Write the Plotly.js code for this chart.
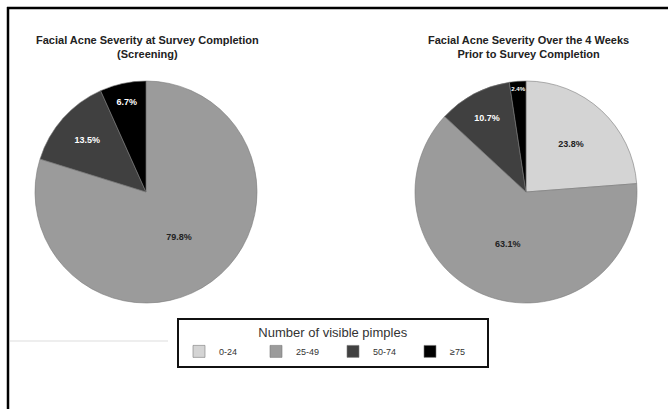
<!DOCTYPE html>
<html>
<head>
<meta charset="utf-8">
<script src="https://cdn.plot.ly/plotly-3.0.1.min.js"></script>
<style>
  html, body { margin: 0; padding: 0; background: #ffffff; }
  #chart { width: 668px; height: 409px; }
</style>
</head>
<body>
<div id="chart"></div>
<script>
// Pimple-count categories shared by both pies
const categories = ["0-24", "25-49", "50-74", "\u226575"];
const sliceColors = ["#d4d4d4", "#9b9b9b", "#404040", "#000000"];

// Share of respondents (%) in each category
const screeningValues = [0, 79.8, 13.5, 6.7];
const priorWeeksValues = [23.8, 63.1, 10.7, 2.4];

const screeningTitle = "Facial Acne Severity at Survey Completion<br>(Screening)";
const priorWeeksTitle = "Facial Acne Severity Over the 4 Weeks<br>Prior to Survey Completion";
const legendTitle = "Number of visible pimples";

const W = 668, H = 409;
const px = v => v / W;
const py = v => 1 - v / H;
const FONT = "Liberation Sans, Arial, sans-serif";

function pctText(vals) {
  return vals.map(v => v > 0 ? "<b>" + v.toFixed(1) + "%</b>" : "");
}
function textColors(vals) {
  return vals.map((v, i) => i >= 2 ? "#ffffff" : "#222222");
}

function pieTrace(vals, x0, x1, y0, y1) {
  return {
    type: "pie",
    labels: categories,
    values: vals,
    text: pctText(vals),
    textinfo: "text",
    textposition: "inside",
    insidetextorientation: "horizontal",
    insidetextfont: { family: FONT, size: 9, color: textColors(vals) },
    sort: false,
    direction: "clockwise",
    rotation: 0,
    marker: { colors: sliceColors, line: { color: "#7a7a7a", width: 0.6 } },
    domain: { x: [px(x0), px(x1)], y: [py(y1), py(y0)] },
    hoverinfo: "label+text",
    showlegend: true
  };
}

const data = [
  pieTrace(priorWeeksValues, 415, 637, 81, 303),
  pieTrace(screeningValues, 35, 257, 81, 303)
];

const titleFont = { family: FONT, size: 11, color: "#222222" };

const layout = {
  width: W,
  height: H,
  margin: { l: 0, r: 0, t: 0, b: 0 },
  paper_bgcolor: "#ffffff",
  showlegend: true,
  legend: {
    orientation: "h",
    x: px(177), y: py(318),
    xanchor: "left", yanchor: "top",
    bordercolor: "#111111", borderwidth: 2,
    bgcolor: "#ffffff",
    traceorder: "normal",
    itemwidth: 30,
    entrywidth: 32,
    entrywidthmode: "pixels",
    font: { family: FONT, size: 9, color: "#333333" },
    title: { text: legendTitle, side: "top center",
             font: { family: FONT, size: 13, color: "#333333" } }
  },
  annotations: [
    { text: "<b>" + screeningTitle + "</b>", x: px(147), y: py(32), xref: "paper", yref: "paper",
      xanchor: "center", yanchor: "top", showarrow: false, font: titleFont, align: "center" },
    { text: "<b>" + priorWeeksTitle + "</b>", x: px(528), y: py(32), xref: "paper", yref: "paper",
      xanchor: "center", yanchor: "top", showarrow: false, font: titleFont, align: "center" }
  ],
  shapes: [
    { type: "line", xref: "paper", yref: "paper", x0: px(7), x1: 1, y0: py(8), y1: py(8),
      line: { color: "#000000", width: 2.5 } },
    { type: "line", xref: "paper", yref: "paper", x0: px(8), x1: px(8), y0: py(7), y1: 0,
      line: { color: "#000000", width: 2.5 } },
    { type: "line", xref: "paper", yref: "paper", x0: px(10), x1: px(168), y0: py(341), y1: py(341),
      line: { color: "#dddddd", width: 1 } }
  ]
};

Plotly.newPlot("chart", data, layout, { displayModeBar: false, staticPlot: true });
</script>
</body>
</html>
